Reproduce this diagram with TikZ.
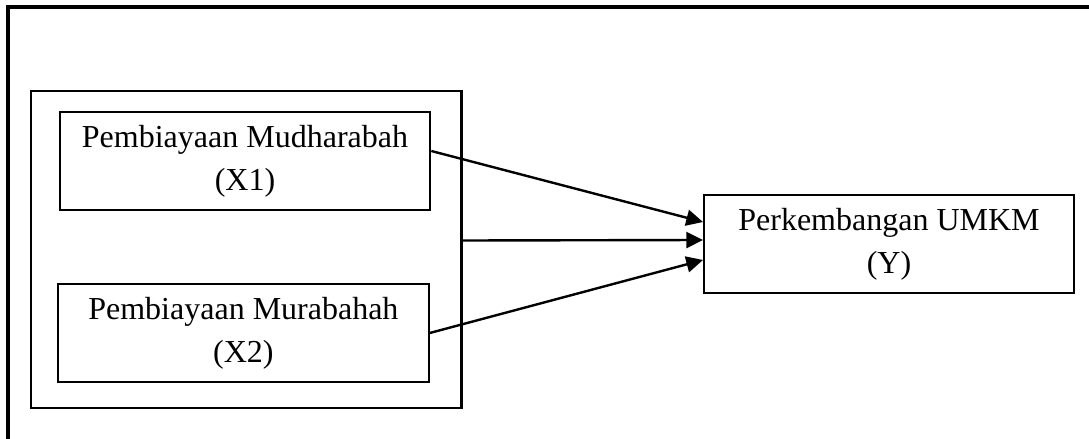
\documentclass[tikz,border=0pt]{standalone}
\usepackage{fontspec}
\setmainfont{Liberation Serif}
\usepackage{tikz}
\usetikzlibrary{calc, arrows.meta}

\begin{document}
\begin{tikzpicture}[x=0.75pt, y=-0.75pt,
    varbox/.style={draw, line width=1.5pt, inner sep=0pt, minimum width=278pt, minimum height=73.5pt,
        align=center, font=\fontsize{24}{32}\selectfont},
    grpbox/.style={draw, line width=2pt, inner sep=0pt, minimum width=323pt, minimum height=237.75pt},
    link/.style={-{Triangle[length=12.5pt, width=12pt]}, line width=1.8pt}]
    \useasboundingbox (0, 0) rectangle (1089, 439);
    \draw[line width=2.3pt] (8, 439) -- (8, 7) -- (1089, 7);

    \node[grpbox] (grp) at (246.4, 249.5) {};
    \node[varbox] (xa) at (245, 161) {Pembiayaan Mudharabah\\(X1)};
    \node[varbox] (xb) at (243.4, 333) {Pembiayaan Murabahah\\(X2)};
    \node[varbox, minimum width=277.5pt] (yv) at (889, 244) {Perkembangan UMKM\\(Y)};

    \draw[link] ($(xa.east)+(0, -10)$) -- ($(yv.west)+(0, -22)$);
    \draw[link] ($(grp.east)+(0, -9)$) -- ($(yv.west)+(0, -4)$);
    \draw[link] (xb.east) -- ($(yv.west)+(0, 16)$);
\end{tikzpicture}
\end{document}
